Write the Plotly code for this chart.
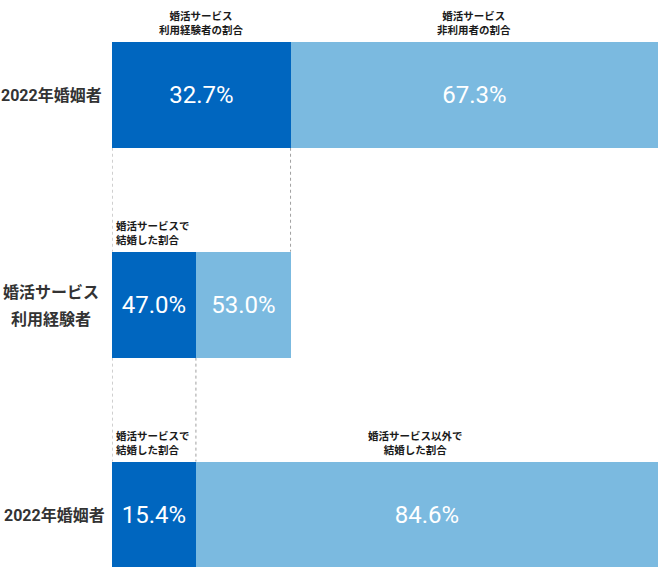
import plotly.graph_objects as go

# ---------------------------------------------------------------------
# DATA
# ---------------------------------------------------------------------
row_labels = [["2022年婚姻者"], ["婚活サービス", "利用経験者"], ["2022年婚姻者"]]
used_share = [32.7, 47.0, 15.4]      # dark segment (%)
other_share = [67.3, 53.0, 84.6]     # light segment (%)

headers = [
    # (text, row, segment)
    ("婚活サービス<br>利用経験者の割合", 0, "dark"),
    ("婚活サービス<br>非利用者の割合", 0, "light"),
    ("婚活サービスで<br>結婚した割合", 1, "left"),
    ("婚活サービスで<br>結婚した割合", 2, "left"),
    ("婚活サービス以外で<br>結婚した割合", 2, "light"),
]

DARK = "#0066BF"
LIGHT = "#7BBAE0"
JP_FONT = "Roboto, Noto Sans CJK JP, sans-serif"
HALF = 0.2525  # half bar thickness in row units

# the middle row is a breakdown of the first row's dark segment,
# so it is drawn at the scale of that segment
scale = [1.0, used_share[0] / 100.0, 1.0]
dark_x = [v * s for v, s in zip(used_share, scale)]
light_x = [v * s for v, s in zip(other_share, scale)]
rows = [0, 1, 2]

fig = go.Figure()
for xs, vals, col in [(dark_x, used_share, DARK), (light_x, other_share, LIGHT)]:
    fig.add_trace(go.Bar(
        y=rows, x=xs, orientation="h", marker_color=col, width=2 * HALF,
        marker_line_width=0,
        text=[f"{v:.1f}%" for v in vals], textposition="inside",
        insidetextanchor="middle", textangle=0,
        textfont=dict(color="white", size=24, family="Roboto"),
        hoverinfo="skip",
    ))

# row labels on the left
for r, lines in zip(rows, row_labels):
    n = len(lines)
    for i, line in enumerate(lines):
        fig.add_annotation(
            x=0, xref="paper", y=r, yref="y", text=line, showarrow=False,
            xanchor="center", xshift=-61 if r != 2 else -58,
            yshift=-1 + (n - 1) * 13.5 - i * 27,
            font=dict(size=16, color="#333333", family=JP_FONT, weight="bold"),
        )

# small headers above segments
for text, r, seg in headers:
    if seg == "dark":
        x, anchor, align, shift = dark_x[r] / 2, "center", "center", 0
    elif seg == "light":
        x, anchor, align, shift = dark_x[r] + light_x[r] / 2, "center", "center", 0
        if r == 2:
            shift = -12
    else:
        x, anchor, align, shift = 0, "left", "left", 2
    fig.add_annotation(
        x=x, y=r - HALF, xref="x", yref="y", text=text, showarrow=False,
        xanchor=anchor, yanchor="bottom", align=align, xshift=shift, yshift=3,
        font=dict(size=10.5, color="#1a1a1a", family="Noto Sans CJK JP", weight="bold"),
    )

# dotted guide lines between rows
guides = [(0, 0), (dark_x[0], 0), (0, 1), (dark_x[1], 1)]
for gx, r in guides:
    fig.add_shape(
        type="line", xref="x", yref="y", x0=gx, x1=gx,
        y0=r + HALF, y1=r + 1 - HALF,
        line=dict(color="#A0A0A0", width=1, dash="dot"), layer="below",
    )

fig.update_layout(
    width=665, height=572,
    barmode="stack", bargap=0, showlegend=False,
    plot_bgcolor="white", paper_bgcolor="white",
    margin=dict(l=112, r=7, t=40, b=0),
    xaxis=dict(range=[0, 100], visible=False, fixedrange=True),
    yaxis=dict(range=[2.274, -0.261], visible=False, fixedrange=True),
    uniformtext=dict(minsize=24, mode="show"),
)

# drop the default 8px page margin so the figure fills the window
fig.write_html(
    "out.html",
    config={"displayModeBar": False},
    post_script="document.body.style.margin='0';",
)
